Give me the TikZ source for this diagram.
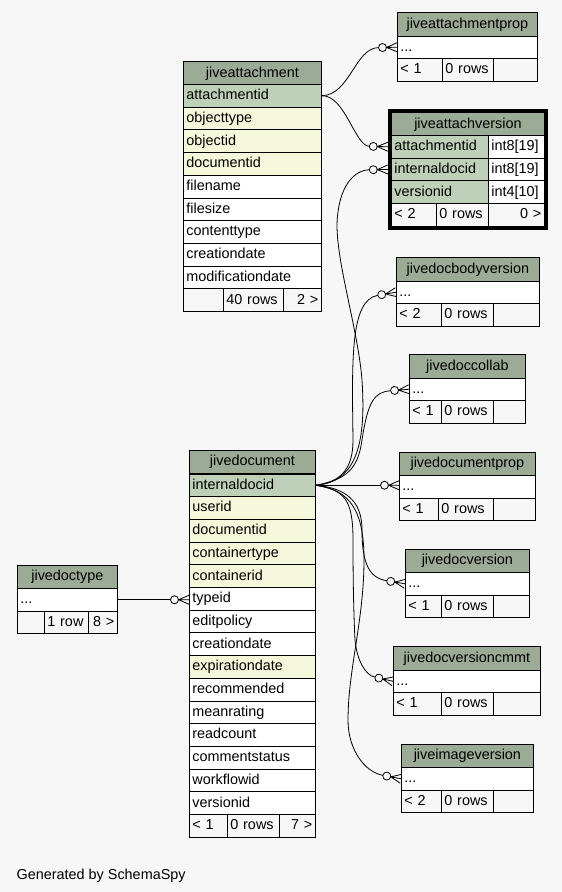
\documentclass[tikz,border=0pt]{standalone}
\usepackage{fontspec}
\setmainfont{Liberation Sans}
\usetikzlibrary{positioning,fit,arrows.meta}

\definecolor{headc}{HTML}{9BAB96}
\definecolor{keyc}{HTML}{BED1B8}
\definecolor{idxc}{HTML}{F4F7DA}
\definecolor{bgc}{HTML}{F7F7F7}

\newcommand\tableFont{\fontsize{14.4}{17}\selectfont}

% zero or many end: open circle and crow's foot
\pgfdeclarearrow{
  name = zeromany,
  setup code = {
    \pgfarrowssettipend{0pt}
    \pgfarrowssetlineend{-18.5pt}
    \pgfarrowssetvisualbackend{-18.5pt}
    \pgfarrowssetbackend{-18.5pt}
    \pgfarrowshullpoint{0pt}{4.5pt}
    \pgfarrowshullpoint{0pt}{-4.5pt}
    \pgfarrowshullpoint{-18.5pt}{4pt}
    \pgfarrowshullpoint{-18.5pt}{-4pt}
  },
  drawing code = {
    \pgfsetdash{}{0pt}
    \pgfpathmoveto{\pgfpoint{0pt}{4.5pt}}
    \pgfpathlineto{\pgfpoint{-10.5pt}{0pt}}
    \pgfpathlineto{\pgfpoint{0pt}{-4.5pt}}
    \pgfpathmoveto{\pgfpoint{0pt}{0pt}}
    \pgfpathlineto{\pgfpoint{-10.5pt}{0pt}}
    \pgfusepathqstroke
    \pgfpathcircle{\pgfpoint{-14.5pt}{0pt}}{4pt}
    \pgfusepathqstroke
  },
  defaults = {}
}

\tikzset{
  cell/.style={draw, line width=0.8pt, anchor=north west, inner xsep=3pt, inner ysep=0pt,
    minimum height=22.7pt, text height=10.5pt, text depth=2.5pt, align=left, fill=white},
  head/.style={cell, fill=headc, align=center, minimum height=23.5pt},
  foot/.style={cell, fill=bgc},
  rel/.style={line width=0.8pt, -zeromany},
}

\begin{document}
\begin{tikzpicture}[x=1pt, y=-1pt, every node/.append style={font=\tableFont}]
  \useasboundingbox[fill=bgc] (0,0) rectangle (562,892);

  % jiveattachment
  \node[head, text width=132pt] (att-head) at (183,61) {jiveattachment};
  \foreach \i/\col/\fc in {1/attachmentid/keyc, 2/objecttype/idxc, 3/objectid/idxc,
      4/documentid/idxc, 5/filename/white, 6/filesize/white, 7/contenttype/white,
      8/creationdate/white, 9/modificationdate/white} {
    \node[cell, fill=\fc, text width=132pt] (att-\col) at ({183},{84+(\i-1)*22.7}) {\col};
  }
  \node[foot, text width=34pt] (att-foot1) at (183,288.3) {};
  \node[foot, text width=54pt] (att-foot2) at (223,288.3) {40 rows};
  \node[foot, text width=32pt, align=right] (att-foot3) at (283,288.3) {2 >};

  % jiveattachversion
  \node[head, text width=147pt] (av-head) at (391,112) {jiveattachversion};
  \foreach \i/\col/\typ in {1/attachmentid/int8[19], 2/internaldocid/int8[19], 3/versionid/int4[10]} {
    \node[cell, fill=keyc, text width=91pt] (av-\col) at ({391},{135+(\i-1)*22.7}) {\col};
    \node[cell, text width=50pt] (av-\col-type) at ({488},{135+(\i-1)*22.7}) {\typ};
  }
  \node[foot, text width=39pt] (av-foot1) at (391,203.1) {< 2};
  \node[foot, text width=46pt] (av-foot2) at (436,203.1) {0 rows};
  \node[foot, text width=50pt, align=right] (av-foot3) at (488,203.1) {0 >};
  \node[fit=(av-head)(av-foot3), draw, line width=3.2pt, inner sep=1.6pt] (av-frame) {};

  % jivedocument
  \node[head, text width=120pt] (doc-head) at (189,449.5) {jivedocument};
  \foreach \i/\col/\fc in {1/internaldocid/keyc, 2/userid/idxc, 3/documentid/idxc,
      4/containertype/idxc, 5/containerid/idxc, 6/typeid/white, 7/editpolicy/white,
      8/creationdate/white, 9/expirationdate/idxc, 10/recommended/white,
      11/meanrating/white, 12/readcount/white, 13/commentstatus/white,
      14/workflowid/white, 15/versionid/white} {
    \node[cell, fill=\fc, text width=120pt] (doc-\col) at ({189},{473.5+(\i-1)*22.7}) {\col};
  }
  \node[foot, text width=32pt] (doc-foot1) at (189,814) {< 1};
  \node[foot, text width=46pt] (doc-foot2) at (227,814) {0 rows};
  \node[foot, text width=30pt, align=right] (doc-foot3) at (279,814) {7 >};

  % jivedoctype
  \node[head, text width=94pt] (dt-head) at (17,564.5) {jivedoctype};
  \node[cell, text width=94pt] (dt-dots) at (17,588) {...};
  \node[foot, text width=21pt] (dt-foot1) at (17,610.7) {};
  \node[foot, text width=38pt] (dt-foot2) at (44,610.7) {1 row};
  \node[foot, text width=23pt, align=right] (dt-foot3) at (88,610.7) {8 >};

  % small tables
  \foreach \nm/\title/\xl/\xr/\yt/\xs/\lft in {
      ap/jiveattachmentprop/397/537/12/442/1,
      dbv/jivedocbodyversion/396/539/257/441/2,
      dc/jivedoccollab/409/525/354/441/1,
      dp/jivedocumentprop/399/535/451.5/438/1,
      dv/jivedocversion/405/529/548.5/441/1,
      dvc/jivedocversioncmmt/393/540/646/441/1,
      iv/jiveimageversion/401/533/743.5/441/2} {
    \pgfmathsetmacro\tw{\xr-\xl-6}
    \pgfmathsetmacro\wa{\xs-\xl-6}
    \pgfmathsetmacro\wb{493-\xs-6}
    \pgfmathsetmacro\wc{\xr-493-6}
    \node[head, text width=\tw pt] (\nm-head) at (\xl,\yt) {\title};
    \node[cell, text width=\tw pt] (\nm-dots) at (\xl,\yt+23.5) {...};
    \node[foot, text width=\wa pt] (\nm-foot1) at (\xl,\yt+46.2) {< \lft};
    \node[foot, text width=\wb pt] (\nm-foot2) at (\xs,\yt+46.2) {0 rows};
    \node[foot, text width=\wc pt] (\nm-foot3) at (493,\yt+46.2) {};
  }

  % relations
  \draw[rel] (att-attachmentid.east) .. controls (350,95) and (355,48) .. (ap-dots.west);
  \draw[rel] (att-attachmentid.east) .. controls (345,95) and (355,146) .. ([xshift=-3.2pt]av-attachmentid.west);
  \draw[rel] (doc-internaldocid.east) .. controls (358,482) and (366,440) .. (362,380)
    .. controls (358,330) and (337,265) .. (337,225)
    .. controls (338,185) and (355,170) .. ([xshift=-3.2pt]av-internaldocid.west);
  \draw[rel] (doc-internaldocid.east) .. controls (340,482) and (353,470) .. (353,440)
    .. controls (352,360) and (350,300) .. (dbv-dots.west);
  \draw[rel] (doc-internaldocid.east) .. controls (345,480) and (358,470) .. (362,440)
    .. controls (368,400) and (375,392) .. (dc-dots.west);
  \draw[rel] (doc-internaldocid.east) -- (doc-internaldocid.east -| dp-dots.west);
  \draw[rel] (doc-internaldocid.east) .. controls (345,488) and (362,500) .. (362,530)
    .. controls (362,565) and (370,578) .. (dv-dots.west);
  \draw[rel] (doc-internaldocid.east) .. controls (345,490) and (353,500) .. (353,540)
    .. controls (353,590) and (354,620) .. (355,640)
    .. controls (357,660) and (365,675) .. (dvc-dots.west);
  \draw[rel] (doc-internaldocid.east) .. controls (350,490) and (364,510) .. (364,560)
    .. controls (364,620) and (348,670) .. (348,720)
    .. controls (348,750) and (365,772) .. (iv-dots.west);
  \draw[rel] (dt-dots.east) -- (dt-dots.east -| doc-typeid.west);

  % credit
  \node[anchor=base west, inner sep=0pt] (credit) at (16.5,879) {Generated by SchemaSpy};
\end{tikzpicture}
\end{document}
